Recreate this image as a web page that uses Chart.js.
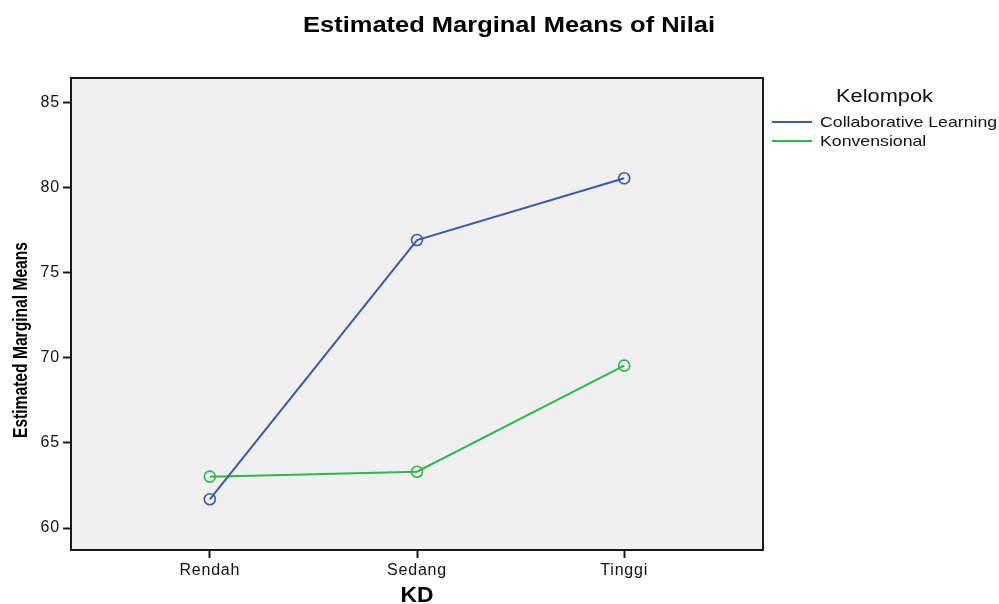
<!DOCTYPE html>
<html>
<head>
<meta charset="utf-8">
<script src="https://cdn.jsdelivr.net/npm/chart.js@4.4.0/dist/chart.umd.min.js"></script>
<style>
  html, body { margin: 0; padding: 0; background: #ffffff; }
  #wrap { width: 999px; height: 604px; position: relative; }
</style>
</head>
<body>
<div id="wrap"><canvas id="c" width="999" height="604"></canvas></div>
<script>
const chartTitle = "Estimated Marginal Means of Nilai";
const yAxisTitle = "Estimated Marginal Means";
const xAxisTitle = "KD";
const legendTitle = "Kelompok";
const categories = ["Rendah", "Sedang", "Tinggi"];
const seriesNames = ["Collaborative Learning", "Konvensional"];
const collaborative = [61.69, 76.94, 80.57];
const konvensional = [63.02, 63.31, 69.55];
const yTickValues = [60, 65, 70, 75, 80, 85];
const colors = ["#3E58AC", "#2EB848"];

const FONT = "'Liberation Sans', Arial, sans-serif";

function toPoints(vals) {
  return vals.map((v, i) => ({ x: i, y: v }));
}

// draw text horizontally scaled by factor sx, anchored per textAlign
function drawScaled(ctx, text, x, y, font, sx, align) {
  ctx.save();
  ctx.font = font;
  ctx.textBaseline = 'middle';
  ctx.textAlign = align;
  ctx.translate(x, y);
  ctx.scale(sx, 1);
  ctx.fillText(text, 0, 0);
  ctx.restore();
}

const decorPlugin = {
  id: 'decor',
  beforeDraw(chart) {
    const { ctx, chartArea: a } = chart;
    ctx.save();
    ctx.fillStyle = '#ffffff';
    ctx.fillRect(0, 0, chart.width, chart.height);
    ctx.fillStyle = '#F0F0F0';
    ctx.fillRect(a.left, a.top, a.right - a.left, a.bottom - a.top);
    ctx.restore();
    // slightly wider tick text, like the reference rendering
    try { ctx.letterSpacing = '0.8px'; } catch (e) {}
  },
  afterDraw(chart) {
    const { ctx, chartArea: a } = chart;
    try { ctx.letterSpacing = '0px'; } catch (e) {}
    ctx.save();
    // plot frame
    ctx.strokeStyle = '#1a1a1a';
    ctx.lineWidth = 2;
    ctx.strokeRect(a.left, a.top, a.right - a.left, a.bottom - a.top);

    ctx.fillStyle = '#000000';
    // chart title
    ctx.font = 'bold 22px ' + FONT;
    let w = ctx.measureText(chartTitle).width;
    drawScaled(ctx, chartTitle, 509, 26, 'bold 22px ' + FONT, 412 / w, 'center');

    // x axis title
    ctx.font = 'bold 22px ' + FONT;
    w = ctx.measureText(xAxisTitle).width;
    drawScaled(ctx, xAxisTitle, 417, 596, 'bold 22px ' + FONT, 33 / w, 'center');

    // y axis title (condensed)
    ctx.save();
    ctx.translate(21, 340);
    ctx.rotate(-Math.PI / 2);
    ctx.font = 'bold 20px ' + FONT;
    ctx.textAlign = 'center';
    ctx.textBaseline = 'middle';
    w = ctx.measureText(yAxisTitle).width;
    ctx.scale(196 / w, 1);
    ctx.fillText(yAxisTitle, 0, 0);
    ctx.restore();

    // legend
    ctx.fillStyle = '#111111';
    ctx.font = '18px ' + FONT;
    w = ctx.measureText(legendTitle).width;
    drawScaled(ctx, legendTitle, 836, 97, '18px ' + FONT, 97 / w, 'left');
    chart.data.datasets.forEach((ds, i) => {
      const y = 122 + i * 19;
      ctx.strokeStyle = ds.borderColor;
      ctx.lineWidth = 2;
      ctx.beginPath();
      ctx.moveTo(772, y);
      ctx.lineTo(812, y);
      ctx.stroke();
      ctx.fillStyle = '#111111';
      drawScaled(ctx, ds.label, 820, y + 1, '15px ' + FONT, 1.18, 'left');
    });
    ctx.restore();
  }
};

new Chart(document.getElementById('c'), {
  type: 'line',
  data: {
    datasets: [
      {
        label: seriesNames[0],
        data: toPoints(collaborative),
        borderColor: colors[0],
        backgroundColor: 'rgba(0,0,0,0)',
        borderWidth: 2,
        pointRadius: 5.5,
        pointBorderWidth: 1.6,
        pointBackgroundColor: 'rgba(0,0,0,0)',
        pointBorderColor: colors[0],
        tension: 0
      },
      {
        label: seriesNames[1],
        data: toPoints(konvensional),
        borderColor: colors[1],
        backgroundColor: 'rgba(0,0,0,0)',
        borderWidth: 2,
        pointRadius: 5.5,
        pointBorderWidth: 1.6,
        pointBackgroundColor: 'rgba(0,0,0,0)',
        pointBorderColor: colors[1],
        tension: 0
      }
    ]
  },
  options: {
    responsive: false,
    animation: false,
    devicePixelRatio: 1,
    layout: { padding: { left: 0, top: 78, right: 236, bottom: 0 } },
    plugins: {
      legend: { display: false },
      title: { display: false },
      tooltip: { enabled: false }
    },
    scales: {
      x: {
        type: 'linear',
        min: -0.67,
        max: 2.67,
        afterFit(scale) { scale.height = 54; },
        afterBuildTicks(scale) {
          scale.ticks = categories.map((c, i) => ({ value: i }));
        },
        ticks: {
          autoSkip: false,
          maxRotation: 0,
          padding: 3,
          color: '#111111',
          font: { family: FONT, size: 16 },
          callback: (v) => categories[v] !== undefined ? categories[v] : ''
        },
        grid: {
          display: true,
          drawOnChartArea: false,
          drawTicks: true,
          tickLength: 8,
          tickWidth: 2,
          tickColor: '#1a1a1a'
        },
        border: { display: false }
      },
      y: {
        type: 'linear',
        min: 58.706,
        max: 86.47,
        afterFit(scale) { scale.width = 71; },
        afterBuildTicks(scale) {
          scale.ticks = yTickValues.map(v => ({ value: v }));
        },
        ticks: {
          padding: 3,
          color: '#111111',
          font: { family: FONT, size: 16 },
          callback: (v) => String(v)
        },
        grid: {
          display: true,
          drawOnChartArea: false,
          drawTicks: true,
          tickLength: 8,
          tickWidth: 2,
          tickColor: '#1a1a1a'
        },
        border: { display: false }
      }
    }
  },
  plugins: [decorPlugin]
});
</script>
</body>
</html>
